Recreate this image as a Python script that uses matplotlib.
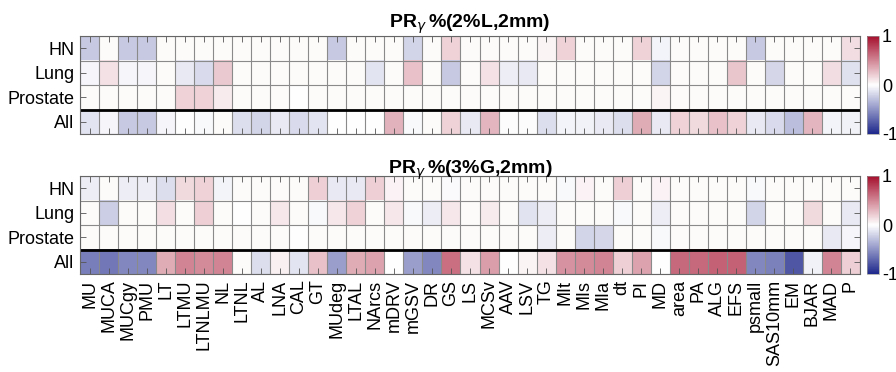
import numpy as np
import matplotlib
matplotlib.use("Agg")
import matplotlib.pyplot as plt
from matplotlib.colors import LinearSegmentedColormap

plt.rcParams['font.family'] = ['Liberation Sans', 'DejaVu Sans']
plt.rcParams['mathtext.fontset'] = 'dejavusans'

#  Labels
groups = ['HN', 'Lung', 'Prostate', 'All']
metrics = ['MU', 'MUCA', 'MUCgy', 'PMU', 'LT', 'LTMU', 'LTNLMU', 'NL', 'LTNL', 'AL',
           'LNA', 'CAL', 'GT', 'MUdeg', 'LTAL', 'NArcs', 'mDRV', 'mGSV', 'DR', 'GS',
           'LS', 'MCSv', 'AAV', 'LSV', 'TG', 'MIt', 'MIs', 'MIa', 'dt', 'PI',
           'MD', 'area', 'PA', 'ALG', 'EFS', 'psmall', 'SAS10mm', 'EM', 'BJAR', 'MAD', 'P']

#  Correlations, PR_gamma (2%L, 2mm)
hn_2L = [-0.25, 0.02, -0.25, -0.25, 0.02, 0.02, 0.02, 0.02, 0.02, 0.02,
         0.02, 0.02, 0.02, -0.25, 0.02, 0.02, 0.02, -0.2, 0.02, 0.18,
         0.02, 0.02, 0.02, 0.02, 0.04, 0.18, 0.02, 0.02, 0.02, 0.18,
         -0.05, 0.02, 0.02, 0.02, 0.02, -0.25, 0.02, 0.02, 0.02, 0.02, 0.14]
lung_2L = [-0.04, 0.12, -0.04, -0.04, 0.02, -0.1, -0.17, 0.22, 0.02, 0.02,
           0.02, 0.02, 0.02, 0.02, 0.02, -0.12, 0.02, 0.25, 0.02, -0.25,
           0.02, 0.12, -0.08, -0.1, 0.02, 0.02, 0.02, 0.02, 0.02, 0.02,
           -0.2, 0.02, 0.02, 0.02, 0.24, 0.02, -0.18, 0.02, 0.02, 0.14, -0.14]
prostate_2L = [0.02, 0.02, 0.02, 0.02, 0.02, 0.18, 0.18, 0.08, 0.02, 0.02,
               0.02, 0.0, 0.02, 0.02, 0.02, 0.02, 0.02, 0.02, 0.02, 0.02,
               0.02, 0.02, 0.02, 0.02, 0.02, 0.02, 0.02, 0.02, 0.02, 0.02,
               0.04, 0.02, 0.02, 0.02, 0.02, 0.02, 0.02, 0.02, 0.02, 0.02, 0.02]
all_2L = [-0.12, -0.04, -0.25, -0.25, -0.04, 0.0, -0.03, 0.02, -0.15, -0.2,
          -0.1, -0.17, -0.12, 0.0, 0.0, 0.0, 0.32, -0.03, 0.02, 0.18,
          -0.1, 0.3, 0.01, 0.01, -0.15, -0.05, -0.06, -0.1, -0.15, 0.35,
          -0.1, 0.18, 0.15, 0.25, 0.18, -0.1, -0.17, -0.3, 0.3, -0.05, -0.06]

#  Correlations, PR_gamma (3%G, 2mm)
hn_3G = [-0.08, 0.02, -0.08, -0.08, -0.15, 0.15, 0.18, -0.05, 0.02, 0.02,
         0.02, 0.02, 0.2, -0.1, -0.1, 0.2, 0.05, 0.02, 0.02, -0.02,
         0.02, 0.02, 0.02, 0.02, 0.02, -0.03, 0.05, 0.02, 0.2, 0.02,
         0.05, 0.02, 0.02, 0.02, 0.02, -0.03, 0.02, 0.02, 0.02, 0.02, 0.02]
lung_3G = [0.02, -0.22, 0.02, 0.02, 0.13, 0.02, 0.2, 0.02, 0.0, 0.02,
           0.1, 0.02, -0.03, 0.1, 0.18, 0.02, 0.1, -0.03, -0.08, 0.1,
           0.02, 0.08, 0.02, -0.13, -0.08, 0.02, 0.02, 0.02, -0.03, 0.02,
           -0.08, 0.02, 0.02, 0.02, 0.02, -0.2, 0.02, 0.02, 0.15, 0.02, -0.1]
prostate_3G = [0.02, 0.02, 0.02, 0.02, 0.02, 0.02, 0.02, 0.02, 0.02, 0.02,
               0.02, 0.0, 0.02, 0.02, 0.02, 0.02, 0.02, 0.02, 0.02, 0.02,
               0.02, 0.02, 0.02, 0.02, -0.08, 0.02, -0.2, -0.18, 0.02, 0.02,
               -0.03, 0.02, 0.02, 0.02, 0.02, 0.02, 0.02, 0.02, 0.02, -0.1, -0.04]
all_3G = [-0.6, -0.62, -0.55, -0.55, 0.35, 0.5, 0.48, 0.5, 0.02, -0.15,
          0.06, -0.12, 0.25, -0.45, 0.35, 0.38, 0.0, -0.45, -0.55, 0.6,
          0.12, 0.4, 0.0, 0.04, 0.12, 0.45, 0.48, 0.5, 0.2, 0.38,
          0.0, 0.62, 0.62, 0.65, 0.65, -0.55, -0.58, -0.78, -0.06, 0.5, 0.2]

cmap = LinearSegmentedColormap.from_list('redblue', ['#1e288c', '#ffffff', '#a50f2d'])

fig = plt.figure(figsize=(8.96, 3.72), dpi=100)

W, H = 896, 372


def draw_panel(top_px, data, title, show_xlabels):
    ax = fig.add_axes([80 / W, 1 - (top_px + 98) / H, 780 / W, 98 / H])
    im = ax.imshow(np.array(data), cmap=cmap, vmin=-1, vmax=1,
                   aspect='auto', interpolation='nearest')

    # cell grid
    ax.set_xticks(np.arange(-0.5, len(metrics), 1), minor=True)
    ax.set_yticks(np.arange(-0.5, len(groups), 1), minor=True)
    ax.grid(which='minor', color='#8a8a8a', linewidth=0.8)
    ax.tick_params(which='minor', length=0)
    ax.axhline(2.5, color='black', linewidth=2)

    ax.set_xticks(range(len(metrics)))
    ax.set_yticks(range(len(groups)))
    ax.set_yticklabels(groups)
    if show_xlabels:
        ax.set_xticklabels(metrics, rotation=90)
    else:
        ax.set_xticklabels([])
    ax.tick_params(which='major', direction='in', top=True, right=True,
                   length=4, width=0.6, color='#555555', labelsize=13, pad=4)
    for s in ax.spines.values():
        s.set_color('#666666')
        s.set_linewidth(0.8)

    ax.set_title(title, fontweight='bold', fontsize=14, pad=2)

    cax = fig.add_axes([867 / W, 1 - (top_px + 98) / H, 12 / W, 98 / H])
    cb = fig.colorbar(im, cax=cax, ticks=[-1, 0, 1])
    cb.ax.set_yticklabels(['-1', '0', '1'])
    cb.ax.tick_params(length=0, labelsize=13, pad=2)
    cb.outline.set_linewidth(0.5)
    cb.outline.set_edgecolor('#999999')
    return ax


draw_panel(36, [hn_2L, lung_2L, prostate_2L, all_2L], r'PR$_\gamma\,$%(2%L,2mm)', False)
draw_panel(176, [hn_3G, lung_3G, prostate_3G, all_3G], r'PR$_\gamma\,$%(3%G,2mm)', True)

fig.savefig("out.png", dpi=100)
